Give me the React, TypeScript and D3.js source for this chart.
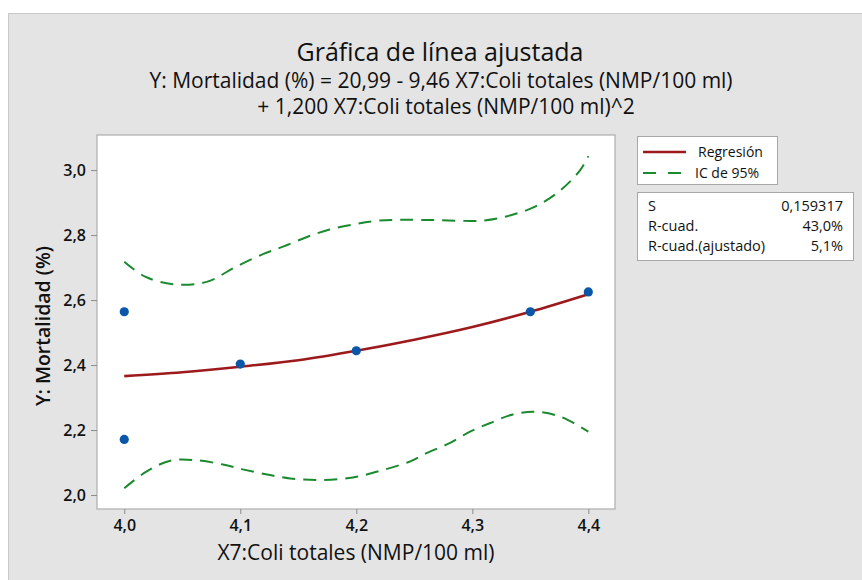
import React, { useEffect, useRef } from "react";
import * as d3 from "d3";

// ---- Data ----
const obsX = [4.0, 4.0, 4.1, 4.2, 4.35, 4.4];
const obsY = [2.564, 2.171, 2.403, 2.444, 2.564, 2.625];

const fitX = [4.0, 4.05, 4.1, 4.15, 4.2, 4.25, 4.3, 4.35, 4.4];
const fitY = [2.366, 2.378, 2.395, 2.415, 2.444, 2.478, 2.517, 2.564, 2.618];

const upperX = [4.0, 4.018, 4.042, 4.071, 4.096, 4.12, 4.138, 4.158, 4.177, 4.198, 4.218, 4.24, 4.27, 4.31, 4.334, 4.355, 4.376, 4.393, 4.4];
const upperY = [2.718, 2.672, 2.649, 2.656, 2.702, 2.742, 2.766, 2.795, 2.817, 2.833, 2.844, 2.847, 2.846, 2.845, 2.862, 2.889, 2.938, 3.0, 3.043];

const lowerX = [4.0, 4.019, 4.039, 4.059, 4.085, 4.102, 4.122, 4.143, 4.169, 4.197, 4.223, 4.246, 4.26, 4.28, 4.298, 4.315, 4.335, 4.355, 4.376, 4.4];
const lowerY = [2.021, 2.072, 2.105, 2.108, 2.094, 2.079, 2.064, 2.051, 2.046, 2.054, 2.077, 2.103, 2.128, 2.159, 2.195, 2.221, 2.248, 2.256, 2.241, 2.195];

const xTicks = [4.0, 4.1, 4.2, 4.3, 4.4];
const yTicks = [2.0, 2.2, 2.4, 2.6, 2.8, 3.0];

const titleText = "Gráfica de línea ajustada";
const subtitle1 = "Y: Mortalidad (%) = 20,99 - 9,46 X7:Coli totales (NMP/100 ml)";
const subtitle2 = "+ 1,200 X7:Coli totales (NMP/100 ml)^2";
const xLabel = "X7:Coli totales (NMP/100 ml)";
const yLabel = "Y: Mortalidad (%)";
const legendLabels = ["Regresión", "IC de 95%"];
const statLabels = ["S", "R-cuad.", "R-cuad.(ajustado)"];
const statValues = ["0,159317", "43,0%", "5,1%"];

const W = 862;
const H = 580;
const plot = { left: 97, top: 135, right: 615, bottom: 509 };
const FONT = "'Open Sans', 'Noto Sans', sans-serif";
const RED = "#9c1a1c";
const GREEN = "#1b8a2f";
const BLUE = "#0a56a8";
const INK = "#111";

const fmt = (v: number) => d3.format(".1f")(v).replace(".", ",");

export default function App() {
  const xAxisRef = useRef<SVGGElement>(null);
  const yAxisRef = useRef<SVGGElement>(null);

  const x = d3.scaleLinear().domain([3.9765, 4.423]).range([plot.left, plot.right]);
  const y = d3.scaleLinear().domain([1.957, 3.108]).range([plot.bottom, plot.top]);

  useEffect(() => {
    const style = (g: d3.Selection<SVGGElement, unknown, null, undefined>) => {
      g.select(".domain").remove();
      g.selectAll(".tick line").attr("stroke", "#8c8c8c").attr("stroke-width", 1);
      g.selectAll(".tick text")
        .attr("fill", INK)
        .style("font-family", FONT)
        .style("font-size", "16px")
        .style("font-weight", "600");
    };
    if (xAxisRef.current) {
      const g = d3.select(xAxisRef.current);
      g.call(d3.axisBottom(x).tickValues(xTicks).tickFormat((d) => fmt(d as number)).tickSize(5).tickPadding(6));
      style(g);
    }
    if (yAxisRef.current) {
      const g = d3.select(yAxisRef.current);
      g.call(d3.axisLeft(y).tickValues(yTicks).tickFormat((d) => fmt(d as number)).tickSize(6).tickPadding(5));
      style(g);
    }
  });

  const curve = d3.line<[number, number]>().x((d) => x(d[0])).y((d) => y(d[1])).curve(d3.curveCatmullRom.alpha(0.5));
  const fitPath = curve(fitX.map((v, i) => [v, fitY[i]]) as [number, number][]) || "";
  const upPath = curve(upperX.map((v, i) => [v, upperY[i]]) as [number, number][]) || "";
  const loPath = curve(lowerX.map((v, i) => [v, lowerY[i]]) as [number, number][]) || "";

  return (
    <svg width={W} height={H} style={{ position: "absolute", left: 0, top: 0, background: "#fff" }} fontFamily={FONT}>
      <rect x={8} y={13} width={W - 8} height={H - 13} fill="#e4e4e4" />
      <line x1={8} y1={13.5} x2={W} y2={13.5} stroke="#c9c9c9" />
      <line x1={8.5} y1={13} x2={8.5} y2={H} stroke="#c9c9c9" />

      <text x={440} y={61} textAnchor="middle" fontSize={25} fontWeight={500} fill={INK}>{titleText}</text>
      <text x={441} y={88} textAnchor="middle" fontSize={21} fontWeight={500} fill={INK}>{subtitle1}</text>
      <text x={446} y={114} textAnchor="middle" fontSize={21} fontWeight={500} fill={INK}>{subtitle2}</text>

      <rect x={plot.left} y={plot.top} width={plot.right - plot.left} height={plot.bottom - plot.top} fill="#fff" stroke="#adadad" strokeWidth={1.2} />

      <g transform={`translate(0,${plot.bottom})`} ref={xAxisRef} />
      <g transform={`translate(${plot.left},0)`} ref={yAxisRef} />

      <path d={upPath} fill="none" stroke={GREEN} strokeWidth={2} strokeDasharray="13,8" />
      <path d={loPath} fill="none" stroke={GREEN} strokeWidth={2} strokeDasharray="13,8" />
      <path d={fitPath} fill="none" stroke={RED} strokeWidth={2.6} />
      {obsX.map((v, i) => (
        <circle key={i} cx={x(v)} cy={y(obsY[i])} r={4.6} fill={BLUE} />
      ))}

      <text x={(plot.left + plot.right) / 2} y={560} textAnchor="middle" fontSize={21} fontWeight={500} fill={INK}>{xLabel}</text>
      <text transform="translate(50,406) rotate(-90)" textAnchor="start" fontSize={20} fontWeight={600} fill={INK} textLength={160} lengthAdjust="spacingAndGlyphs">{yLabel}</text>

      {/* Legend */}
      <rect x={637.5} y={136.5} width={140} height={48} fill="#fff" stroke="#a8a8a8" />
      <line x1={643} y1={152} x2={686} y2={152} stroke={RED} strokeWidth={2.6} />
      <text x={698} y={157} fontSize={14} fill={INK}>{legendLabels[0]}</text>
      <line x1={643} y1={173} x2={682} y2={173} stroke={GREEN} strokeWidth={2} strokeDasharray="13,12" />
      <text x={695} y={178} fontSize={14} fill={INK}>{legendLabels[1]}</text>

      {/* Stats */}
      <rect x={637.5} y={192.5} width={216} height={68} fill="#fff" stroke="#a8a8a8" />
      {statLabels.map((s, i) => (
        <text key={s} x={648} y={211 + i * 20} fontSize={14.5} fill={INK}>{s}</text>
      ))}
      {statValues.map((s, i) => (
        <text key={s} x={843} y={211 + i * 20} fontSize={14.5} textAnchor="end" fill={INK}>{s}</text>
      ))}
    </svg>
  );
}
